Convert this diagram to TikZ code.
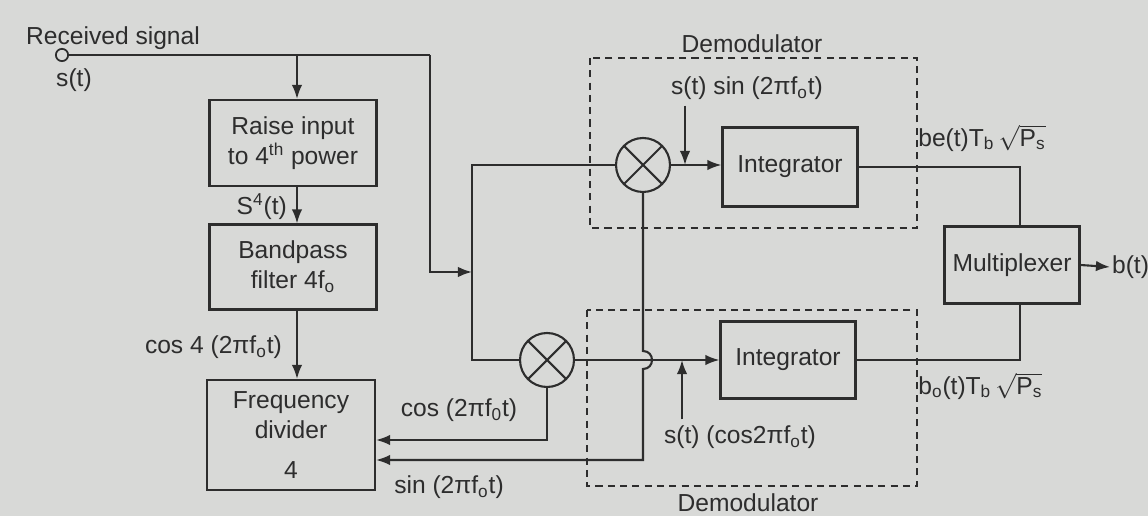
\documentclass[tikz,border=0pt]{standalone}
\usepackage{fontspec}
\usepackage{amsmath}
\setmainfont{Liberation Sans}
\usetikzlibrary{arrows.meta}

\definecolor{pagegray}{RGB}{216,217,215}
\definecolor{ink}{RGB}{45,45,45}

\tikzset{
  >={Latex[length=8pt,width=6pt]},
  every node/.style={text=ink, font=\fontsize{14}{17}\selectfont},
  block/.style={draw=ink, line width=1.2pt, align=center, inner sep=2pt},
  mixer/.style={draw=ink, line width=1.2pt, circle, minimum size=1.08cm,
    path picture={\draw[ink, line width=1.2pt]
      (path picture bounding box.north west) -- (path picture bounding box.south east)
      (path picture bounding box.south west) -- (path picture bounding box.north east);}},
  wire/.style={draw=ink, line width=1.2pt},
  demod/.style={draw=ink, line width=1pt, dash pattern=on 4pt off 3pt},
}

\begin{document}
\begin{tikzpicture}[x=0.02cm, y=-0.02cm]
    \clip (0,0) rectangle (1148,516);
    \fill[pagegray] (0,0) rectangle (1148,516);

    % Carrier recovery chain
    \node[block, minimum width=3.34cm, minimum height=1.72cm] (raise) at (293,143) {Raise input\\to 4\textsuperscript{th} power};
    \node[block, minimum width=3.34cm, minimum height=1.70cm] (bpf) at (293,267) {Bandpass\\filter 4f\textsubscript{o}};
    \node[block, minimum width=3.36cm, minimum height=2.20cm] (div) at (291,435) {Frequency\\divider\\[6pt]4};

    % Demodulators
    \node[mixer] (mixU) at (643,165) {};
    \node[mixer] (mixL) at (547,360) {};
    \node[block, minimum width=2.70cm, minimum height=1.58cm] (intU) at (790,167) {Integrator};
    \node[block, minimum width=2.70cm, minimum height=1.54cm] (intL) at (788,360) {Integrator};
    \node[block, minimum width=2.70cm, minimum height=1.54cm] (mux) at (1012,265) {Multiplexer};

    \draw[demod] (590,58) rectangle (917,228);
    \draw[demod] (587,310) rectangle (917,486);

    % Labels
    \node[anchor=west] (recv) at (20,38) {Received signal};
    \node[anchor=west] (st) at (50,80) {s(t)};
    \node[anchor=east] (s4) at (293,207) {S\textsuperscript{4}(t)};
    \node[anchor=east] (cos4) at (288,347) {cos 4 (2πf\textsubscript{o}t)};
    \node (lblCos) at (459,410) {cos (2πf\textsubscript{0}t)};
    \node (lblSinD) at (449,487) {sin (2πf\textsubscript{o}t)};
    \node (demU) at (752,44) {Demodulator};
    \node (demL) at (748,503) {Demodulator};
    \node (lblSin) at (747,88) {s(t) sin (2πf\textsubscript{o}t)};
    \node (lblCosL) at (740,437) {s(t) (cos2πf\textsubscript{o}t)};
    \node[anchor=west, inner sep=0pt] (be) at (918,138) {be(t)T\textsubscript{b}\,$\sqrt{\text{P\textsubscript{s}}}$};
    \node[anchor=west, inner sep=0pt] (bo) at (918,386) {b\textsubscript{o}(t)T\textsubscript{b}\,$\sqrt{\text{P\textsubscript{s}}}$};
    \node[anchor=west, inner sep=1pt] (bt) at (1110,267) {b(t)};

    % Input and splitting
    \node[circle, draw=ink, line width=1pt, inner sep=0pt, minimum size=7pt] (in) at (62,55) {};
    \coordinate (tapA) at (297,55);
    \coordinate (tapB) at (430,55);
    \coordinate (splitU) at (472,165);
    \coordinate (splitL) at (472,360);
    \draw[wire] (in) -- (tapB);
    \draw[wire, ->] (tapA) -- (raise.north -| tapA);
    \draw[wire, ->] (tapB) -- (430,272) -- (472,272);
    \draw[wire] (mixU.west) -- (splitU) -- (splitL) -- (mixL.west);

    \draw[wire, ->] (raise.south -| tapA) -- (bpf.north -| tapA);
    \draw[wire, ->] (bpf.south -| tapA) -- (div.north -| tapA);

    % Local carriers
    \draw[wire, ->] (mixL.south) -- (547,440) -- (div.east |- 0,440);
    \draw[wire, ->] (mixU.south) -- (643,351) .. controls (655,351) and (655,369) .. (643,369)
        -- (643,460) -- (div.east |- 0,460);

    % Products to integrators
    \coordinate (jU) at (685,165);
    \coordinate (jL) at (682,360);
    \draw[wire, ->] (mixU.east) -- (intU.west |- mixU.east);
    \draw[wire, ->] (mixL.east) -- (intL.west);
    \draw[wire, ->] (jU |- lblSin.south) -- (jU);
    \draw[wire, ->] (jL |- lblCosL.north) -- (jL);

    % Multiplexer
    \draw[wire] (intU.east) -| (mux.north -| 1020,0);
    \draw[wire] (intL.east) -| (mux.south -| 1020,0);
    \draw[wire, ->] (mux.east) -- (bt.west);
\end{tikzpicture}
\end{document}
